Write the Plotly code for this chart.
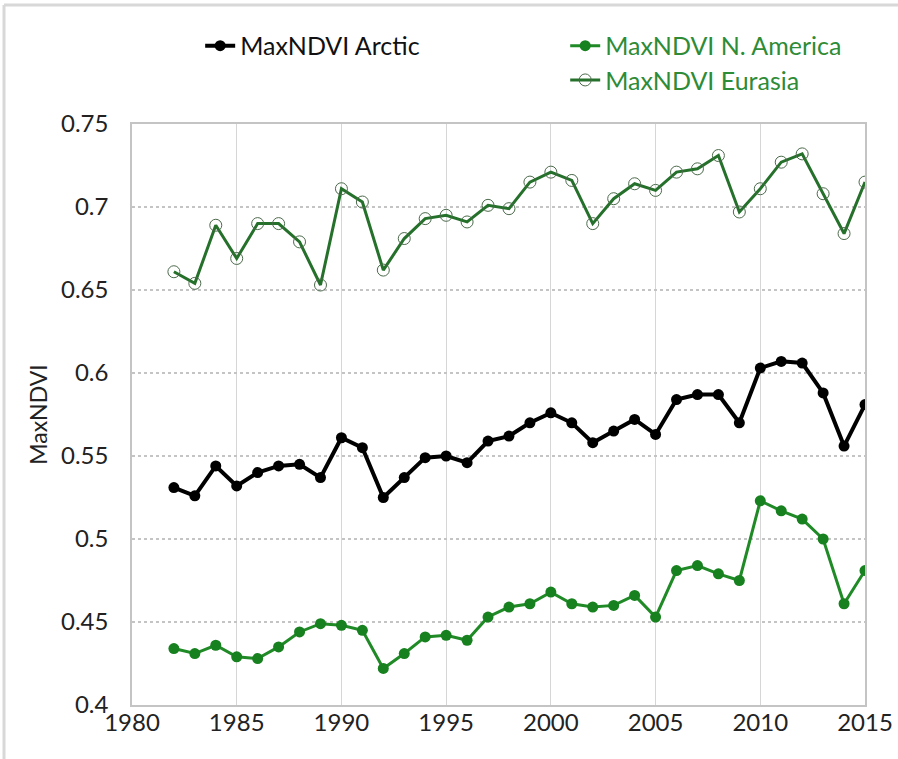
import plotly.graph_objects as go

years = list(range(1982, 2016))

arctic = [0.531, 0.526, 0.544, 0.532, 0.540, 0.544, 0.545, 0.537, 0.561, 0.555,
          0.525, 0.537, 0.549, 0.550, 0.546, 0.559, 0.562, 0.570, 0.576, 0.570,
          0.558, 0.565, 0.572, 0.563, 0.584, 0.587, 0.587, 0.570, 0.603, 0.607,
          0.606, 0.588, 0.556, 0.581]

n_america = [0.434, 0.431, 0.436, 0.429, 0.428, 0.435, 0.444, 0.449, 0.448, 0.445,
             0.422, 0.431, 0.441, 0.442, 0.439, 0.453, 0.459, 0.461, 0.468, 0.461,
             0.459, 0.460, 0.466, 0.453, 0.481, 0.484, 0.479, 0.475, 0.523, 0.517,
             0.512, 0.500, 0.461, 0.481]

eurasia = [0.661, 0.654, 0.689, 0.669, 0.690, 0.690, 0.679, 0.653, 0.711, 0.703,
           0.662, 0.681, 0.693, 0.695, 0.691, 0.701, 0.699, 0.715, 0.721, 0.716,
           0.690, 0.705, 0.714, 0.710, 0.721, 0.723, 0.731, 0.697, 0.711, 0.727,
           0.732, 0.708, 0.684, 0.715]

x_ticks = [1980, 1985, 1990, 1995, 2000, 2005, 2010, 2015]
y_ticks = [0.4, 0.45, 0.5, 0.55, 0.6, 0.65, 0.7, 0.75]
y_tick_text = ["0.4", "0.45", "0.5", "0.55", "0.6", "0.65", "0.7", "0.75"]

FONT = "Lato"
GREEN = "#1f8a26"
DGREEN = "#25702a"
TXT = "#222222"

fig = go.Figure()
fig.add_trace(go.Scatter(
    x=years, y=arctic, mode="lines+markers", name="MaxNDVI Arctic",
    line=dict(color="#000000", width=4),
    marker=dict(symbol="circle", size=11, color="#000000"),
    legend="legend", showlegend=True,
))
fig.add_trace(go.Scatter(
    x=years, y=n_america, mode="lines+markers", name="MaxNDVI N. America",
    line=dict(color=GREEN, width=3),
    marker=dict(symbol="circle", size=11, color="#17801f"),
    legend="legend2", showlegend=True,
))
fig.add_trace(go.Scatter(
    x=years, y=eurasia, mode="lines+markers", name="MaxNDVI Eurasia",
    line=dict(color=DGREEN, width=3),
    marker=dict(symbol="circle-open", size=12, color="#4c6a4c", line=dict(width=1)),
    legend="legend3", showlegend=True,
))

axis_common = dict(
    showline=True, linecolor="#c4c4c4", linewidth=1.5, mirror=True,
    ticks="", zeroline=False, automargin=False,
    tickfont=dict(family=FONT, size=24, color=TXT),
)

fig.update_layout(
    width=898, height=759,
    showlegend=True,
    paper_bgcolor="white", plot_bgcolor="white",
    margin=dict(l=132, r=33, t=124, b=54),
    font=dict(family=FONT, color=TXT),
    xaxis=dict(range=[1980, 2015], tickvals=x_ticks,
               showgrid=True, gridcolor="#d6d6d6", gridwidth=1, griddash="solid",
               ticklabelstandoff=-5,
               **axis_common),
    yaxis=dict(range=[0.4, 0.75], tickvals=y_ticks, ticktext=y_tick_text,
               showgrid=True, gridcolor="#c4c4c4", gridwidth=1.5, griddash="dot",
               ticklabelstandoff=17,
               title=dict(text="MaxNDVI", font=dict(family=FONT, size=23, color=TXT),
                          standoff=7),
               **axis_common),
    legend=dict(x=0.093, y=1.174, xanchor="left", yanchor="top",
                font=dict(family=FONT, size=25, color="#111111"),
                bgcolor="rgba(0,0,0,0)"),
    legend2=dict(x=0.591, y=1.174, xanchor="left", yanchor="top",
                 font=dict(family=FONT, size=25, color="#2e8b36"),
                 bgcolor="rgba(0,0,0,0)"),
    legend3=dict(x=0.591, y=1.115, xanchor="left", yanchor="top",
                 font=dict(family=FONT, size=25, color="#2e8b36"),
                 bgcolor="rgba(0,0,0,0)"),
    shapes=[
        dict(type="line", xref="paper", yref="paper", x0=-0.1746, x1=1.05, y0=1.2048, y1=1.2048,
             line=dict(color="#d8d8d8", width=3)),
        dict(type="line", xref="paper", yref="paper", x0=-0.1746, x1=-0.1746, y0=-0.1, y1=1.2048,
             line=dict(color="#d8d8d8", width=3)),
    ],
)

fig.write_html(
    "out.html",
    config={"displayModeBar": False},
    post_script="document.body.style.margin='0';document.body.style.padding='0';"
                "document.body.style.overflow='hidden';",
)
